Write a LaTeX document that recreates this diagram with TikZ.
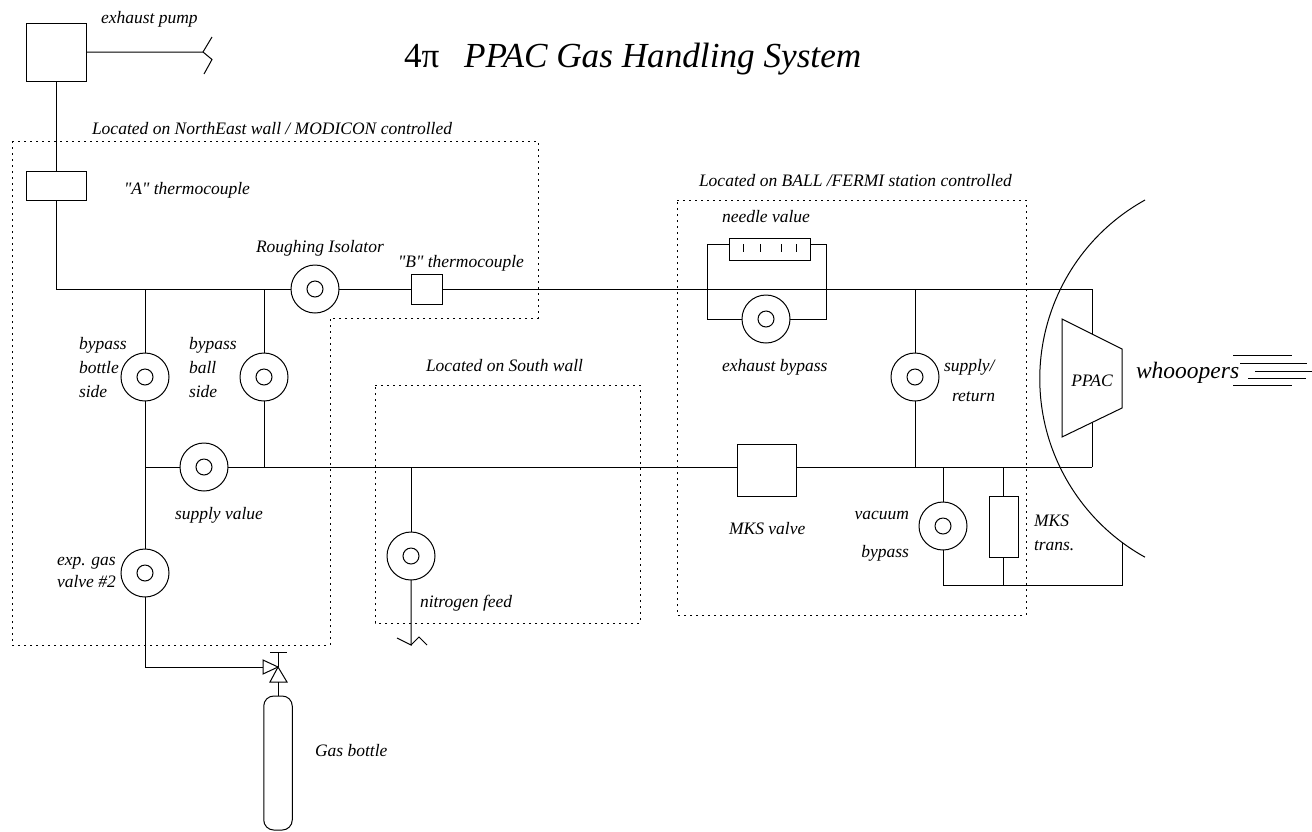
\documentclass[tikz,border=0pt]{standalone}
\usepackage{fontspec}
\setmainfont[Ligatures=TeXOff]{Liberation Serif}
\tikzset{
  x=1pt,y=-1pt,
  pipe/.style={draw,line width=1pt,line join=miter},
  boxnode/.style={draw,line width=1pt,inner sep=0,outer sep=0,fill=white},
  valveout/.style={draw,circle,line width=1pt,inner sep=0,outer sep=0,minimum size=48pt},
  valvein/.style={draw,circle,line width=1pt,inner sep=0,outer sep=0,minimum size=16pt},
  zone/.style={draw,line width=1pt,dash pattern=on 2pt off 4pt},
  lab/.style={inner sep=0,outer sep=0,anchor=base west,font=\fontsize{17.5}{17.5}\selectfont\itshape},
  labr/.style={lab,anchor=base east},
}
\newcommand{\valveat}[3]{\node[valveout] (#1) at (#2,#3) {}; \node[valvein] (#1i) at (#1) {};}
\newcommand{\boxat}[5]{\node[boxnode,minimum width=#4pt,minimum height=#5pt] (#1) at (#2,#3) {};}
\begin{document}
\begin{tikzpicture}
\useasboundingbox (0,0) rectangle (1312,831);
% zones
\draw[zone] (12,141) -- (538,141) -- (538,318) -- (330,318) -- (330,645) -- (12,645) -- cycle;
\draw[zone] (677,200) -- (1026,200) -- (1026,615) -- (677,615) -- cycle;
\draw[zone] (375,385) -- (640,385) -- (640,623) -- (375,623) -- cycle;
% nodes
\boxat{pump}{56}{52}{60}{58}
\boxat{tcA}{56}{185.5}{60}{29}
\boxat{tcB}{426.5}{289}{31}{30}
\boxat{needle}{769.5}{249}{81}{22}
\boxat{mks}{766.5}{470}{59}{52}
\boxat{trans}{1003.5}{526.5}{29}{61}
\valveat{ri}{315}{289}
\valveat{byb}{145}{377}
\valveat{bab}{264}{377}
\valveat{sup}{204}{467}
\valveat{exp}{145}{573}
\valveat{nit}{411}{556}
\valveat{exb}{766}{319}
\valveat{ret}{915}{377}
\valveat{vac}{943}{526}
\node[draw,line width=1pt,rounded corners=10pt,minimum width=28.5pt,minimum height=134pt,inner sep=0,outer sep=0] (bottle) at (278,763) {};
% junction coordinates
\coordinate (c1) at (56,289);
\coordinate (j1) at (145,289);
\coordinate (j2) at (264,289);
\coordinate (j3) at (145,467);
\coordinate (j4) at (264,467);
\coordinate (j5) at (411,467);
\coordinate (nl) at (707,289);
\coordinate (nr) at (826,289);
\coordinate (j6) at (915,289);
\coordinate (e1) at (1092,289);
\coordinate (j7) at (915,467);
\coordinate (j8) at (943,467);
\coordinate (j9) at (1003.5,467);
\coordinate (e2) at (1092,467);
\coordinate (b1) at (943,585);
\coordinate (b2) at (1003.5,585);
\coordinate (b3) at (1122,585);
\coordinate (b4) at (1122,541.5);
\coordinate (g1) at (145,667);
\coordinate (tip) at (278,667);
\coordinate (bar) at (278,652);
\coordinate (barl) at (270,652);
\coordinate (barr) at (287,652);
\coordinate (pumpend) at (203,52);
\coordinate (nitend) at (411,645);
% pipes
\draw[pipe] (pump.east) -- (pumpend) -- (212,37);
\draw[pipe] (pumpend) -- (212,59.5) -- (204,74);
\draw[pipe] (pump.south) -- (tcA.north);
\draw[pipe] (tcA.south) -- (c1) -- (ri.west);
\draw[pipe] (ri.east) -- (tcB.west);
\draw[pipe] (tcB.east) -- (e1);
\draw[pipe] (j1) -- (byb.north);
\draw[pipe] (j2) -- (bab.north);
\draw[pipe] (byb.south) -- (exp.north);
\draw[pipe] (bab.south) -- (j4);
\draw[pipe] (j3) -- (sup.west);
\draw[pipe] (sup.east) -- (mks.west |- j3);
\draw[pipe] (mks.east |- j3) -- (e2);
\draw[pipe] (j5) -- (nit.north);
\draw[pipe] (nit.south) -- (nitend) -- (397,638);
\draw[pipe] (nitend) -- (419,637) -- (427,645);
\draw[pipe] (nl) |- (needle.west |- 0,244);
\draw[pipe] (nr) |- (needle.east |- 0,244);
\draw[pipe] (nl) |- (exb.west);
\draw[pipe] (nr) |- (exb.east);
\draw[pipe] (j6) -- (ret.north);
\draw[pipe] (ret.south) -- (j7);
\draw[pipe] (j8) -- (vac.north);
\draw[pipe] (vac.south) -- (b1) -- (b3) -- (b4);
\draw[pipe] (j9) -- (trans.north);
\draw[pipe] (trans.south) -- (b2);
\draw[pipe] (e1) -- (e2);
% needle ticks
\draw[line width=1pt] (743.5,244) -- ++(0,8) (760,244) -- ++(0,8) (781,244) -- ++(0,8) (796,244) -- ++(0,8);
% gas line
\draw[pipe] (exp.south) -- (g1) -- (263,667);
\draw[pipe] (263,660) -- (tip) -- (263,674) -- cycle;
\draw[pipe] (tip) -- (270,682) -- (287,682) -- cycle;
\draw[pipe] (tip) -- (bar);
\draw[pipe] (barl) -- (barr);
\draw[pipe] (278,682) -- (bottle.north);
% vessel
\draw[line width=1pt] (1145,200) arc[start angle=241,end angle=119,radius=204.2];
\fill[white,draw=black,line width=1pt] (1062,319) -- (1122,349) -- (1122,408) -- (1062,437) -- cycle;
% whooopers lines
\draw[line width=1pt] (1233,355) -- (1292,355) (1240,363) -- (1306.5,363) (1255,371) -- (1312,371) (1248,378) -- (1306,378) (1233,385) -- (1292,385);
% labels
\node[lab] (t1) at (101,23) {exhaust pump};
\node[lab] (t2) at (92,134) {Located on NorthEast wall / MODICON controlled};
\node[lab] (t3) at (124,194) {"A" thermocouple};
\node[lab] (t4) at (256,252) {Roughing Isolator};
\node[lab] (t5) at (398,267) {"B" thermocouple};
\node[lab] (t6) at (699,186) {Located on BALL /FERMI station controlled};
\node[lab] (t7) at (722,222) {needle value};
\node[lab] (t8) at (722,371) {exhaust bypass};
\node[lab] (t9) at (944,371) {supply/};
\node[lab] (t10) at (952,401) {return};
\node[lab,anchor=base] (t11) at (1092,386) {PPAC};
\node[lab,font=\fontsize{23.5}{23.5}\selectfont\itshape] (t12) at (1136,378) {whooopers};
\node[lab] (t13) at (426,371) {Located on South wall};
\node[lab] (t14) at (79,349) {bypass};
\node[lab] (t15) at (79,373) {bottle};
\node[lab] (t16) at (79,397) {side};
\node[lab] (t17) at (189,349) {bypass};
\node[lab] (t18) at (189,373) {ball};
\node[lab] (t19) at (189,397) {side};
\node[lab] (t20) at (175,519) {supply value};
\node[lab] (t21) at (57,565) {exp. gas};
\node[lab] (t22) at (57,587) {valve \#2};
\node[lab] (t23) at (420,607) {nitrogen feed};
\node[lab] (t24) at (729,534) {MKS valve};
\node[labr] (t25) at (909,519) {vacuum};
\node[labr] (t26) at (909,557) {bypass};
\node[lab] (t27) at (1034,526) {MKS};
\node[lab] (t28) at (1034,550) {trans.};
\node[lab] (t29) at (315,756) {Gas bottle};
\node[lab,font=\fontsize{35.2}{35.2}\selectfont] (t30) at (404,67) {4π};
\node[lab,font=\fontsize{35.2}{35.2}\selectfont\itshape] (t31) at (464,67) {PPAC Gas Handling System};
\end{tikzpicture}
\end{document}
